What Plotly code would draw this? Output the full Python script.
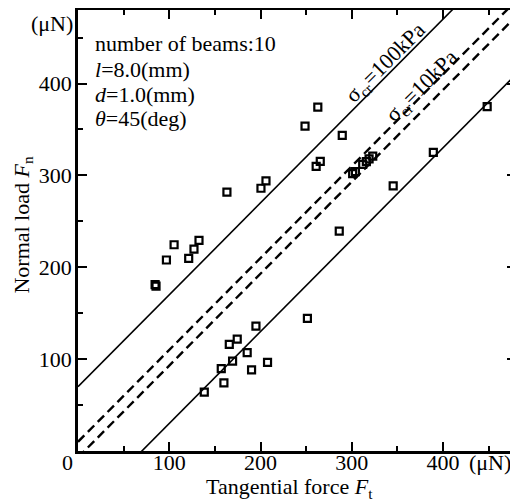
import plotly.graph_objects as go

# Measured data points (tangential force Ft, normal load Fn) in µN
ft = [84.5, 85.5, 96.9, 105.3, 121.3, 127.1, 132.6, 163.2, 200.5, 206.0,
      248.8, 262.8, 261.0, 265.5, 289.6,
      301.0, 304.0, 312.0, 316.0, 319.0, 323.0,
      138.4, 157.0, 159.9, 165.8, 169.4, 174.5, 185.4, 190.2, 195.0, 207.7,
      251.4, 286.3, 345.4, 389.4, 448.4]
fn = [181.0, 179.5, 207.9, 224.5, 209.7, 219.8, 229.2, 281.7, 286.0, 294.0,
      353.6, 374.3, 309.8, 315.2, 343.5,
      302.0, 304.0, 312.0, 315.0, 318.0, 321.0,
      64.0, 89.7, 74.1, 116.1, 97.9, 121.8, 107.0, 88.2, 135.9, 96.5,
      144.3, 239.4, 288.5, 325.0, 374.9]

# Boundary lines Fn = Ft + offset
solid_offsets = [70, -70]     # sigma_cr = 100 kPa
dashed_offsets = [10, -7]     # sigma_cr = 10 kPa
x_range = [0, 480]
y_range = [0, 480]
tick_vals = [100, 200, 300, 400]
tick_text = ["100", "200", "300", "400"]

FONT = "Liberation Serif"
fig = go.Figure()

for c in solid_offsets:
    fig.add_trace(go.Scatter(x=x_range, y=[x_range[0] + c, x_range[1] + c], mode="lines",
                             line=dict(color="black", width=1.6), showlegend=False))
for c in dashed_offsets:
    fig.add_trace(go.Scatter(x=x_range, y=[x_range[0] + c, x_range[1] + c], mode="lines",
                             line=dict(color="black", width=2.4, dash="9px,5px"), showlegend=False))

fig.add_trace(go.Scatter(x=ft, y=fn, mode="markers",
                         marker=dict(symbol="square-open", size=7, color="black",
                                     line=dict(color="black", width=2.2)),
                         showlegend=False))

axis_common = dict(
    showgrid=False, zeroline=False, showline=True, linewidth=2.5, linecolor="black",
    mirror="allticks", ticks="inside", ticklen=9, tickwidth=1.8, tickcolor="black",
    tickvals=tick_vals, ticktext=tick_text,
    tickfont=dict(family=FONT, size=22, color="black"),
    minor=dict(dtick=50, ticks="inside", ticklen=5, tickwidth=1.8, tickcolor="black"),
)
fig.update_xaxes(range=x_range, ticklabelstandoff=-10, **axis_common)
fig.update_yaxes(range=y_range, ticklabelstandoff=-1, **axis_common)

ann_font = dict(family=FONT, size=22, color="black")
anns = [
    dict(text="Tangential force <i>F</i><sub>t</sub>", x=0.484, y=-0.084, xanchor="center", yanchor="middle"),
    dict(text="Normal load <i>F</i><sub>n</sub>", x=-0.1265, y=0.5125, xanchor="center", yanchor="middle", textangle=-90),
    dict(text="(μN)", x=-0.059, y=0.9705, xanchor="center", yanchor="middle"),
    dict(text="(μN)", x=0.9406, y=-0.027, xanchor="center", yanchor="middle"),
    dict(text="0", x=-0.025, y=-0.027, xanchor="center", yanchor="middle"),
    dict(text="number of beams:10", x=0.034, y=0.923, xanchor="left", yanchor="middle"),
    dict(text="<i>l</i>=8.0(mm)", x=0.034, y=0.866, xanchor="left", yanchor="middle"),
    dict(text="<i>d</i>=1.0(mm)", x=0.034, y=0.8095, xanchor="left", yanchor="middle"),
    dict(text="<i>θ</i>=45(deg)", x=0.034, y=0.755, xanchor="left", yanchor="middle"),
]
for a in anns:
    fig.add_annotation(xref="paper", yref="paper", showarrow=False, font=ann_font, **a)

fig.add_annotation(x=338, y=422, xref="x", yref="y", showarrow=False, textangle=-45,
                   text="σ<sub>cr</sub>=100kPa", font=ann_font)
fig.add_annotation(x=377, y=396, xref="x", yref="y", showarrow=False, textangle=-45,
                   text="σ<sub>cr</sub>=10kPa", font=ann_font)

# page body adds an 8px margin; size the figure so the plot area lands where the reference has it
fig.update_layout(width=510, height=493, margin=dict(l=70, r=2, t=2, b=50, autoexpand=False),
                  paper_bgcolor="white", plot_bgcolor="white",
                  font=dict(family=FONT, size=22, color="black"))
fig.write_html("out.html")
